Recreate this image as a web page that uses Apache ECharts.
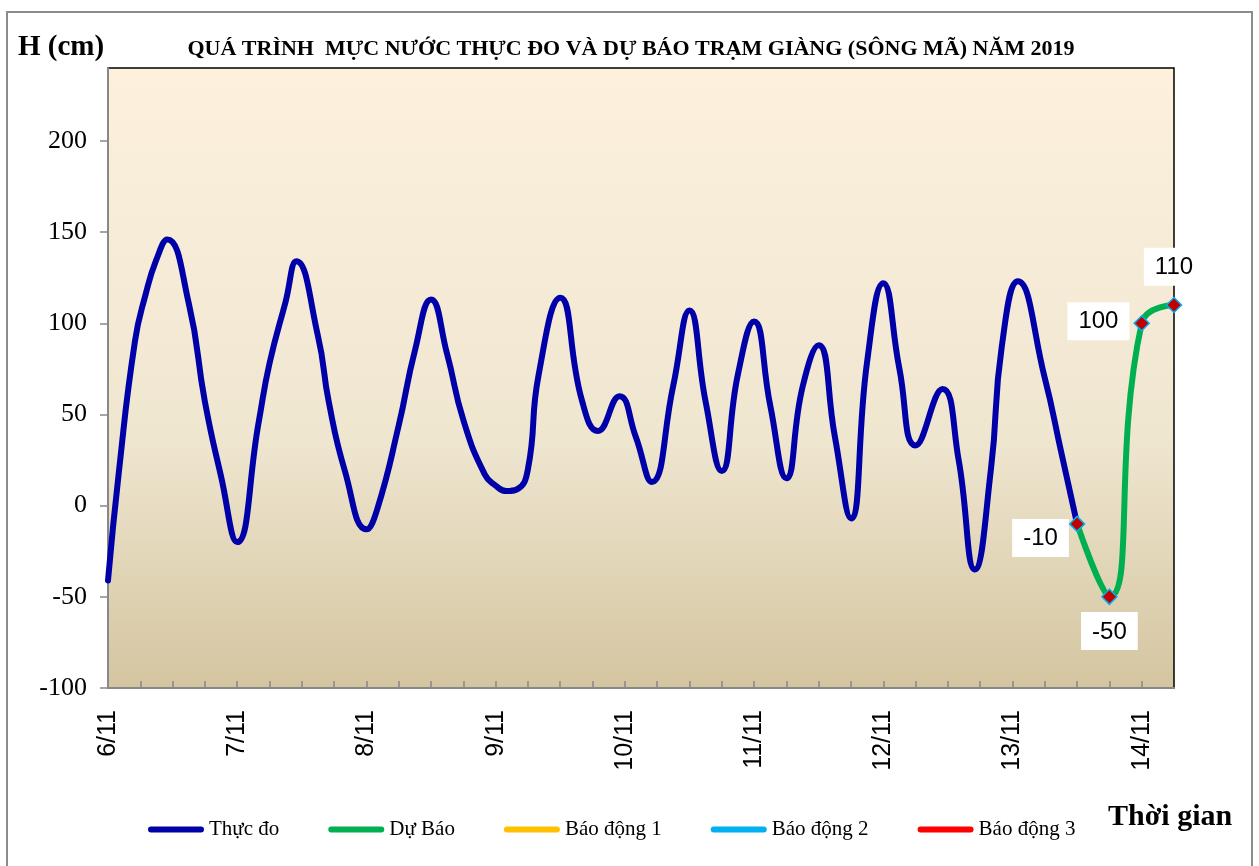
<!DOCTYPE html>
<html>
<head>
<meta charset="utf-8">
<script src="https://cdn.jsdelivr.net/npm/echarts@6/dist/echarts.min.js"></script>
<style>
  html, body { margin: 0; padding: 0; background: #fff; }
  #chart { width: 1259px; height: 866px; }
</style>
</head>
<body>
<div id="chart"></div>
<script>
// số liệu mực nước (giờ tính từ 0h ngày 6/11)
const hours = [0, 2, 5, 7, 9, 11, 15, 18, 21, 24, 28, 30, 33, 35, 39, 41, 44, 48,
  50, 54, 57, 60, 63, 66, 70, 72, 74, 76, 78, 80, 84, 88, 91, 95, 98, 101, 105, 108,
  111, 114, 117, 120, 123, 126, 129, 132, 135, 138, 141, 144, 147, 150, 155, 158, 161, 164, 166, 169,
  174, 177, 180]
const levels = [-41, 18, 90, 116, 135, 146, 111, 57, 16, -20, 46, 78, 112, 134, 93, 57, 19, -13,
  -2, 44, 85, 113, 83, 47, 17, 11, 8, 9, 20, 72, 114, 58, 41, 60, 38, 13, 66, 107,
  57, 19, 72, 101, 55, 15, 65, 88, 38, -7, 79, 122, 75, 33, 64, 25, -35, 20, 87, 123,
  70, 30, -10]
const fcHours = [180, 186, 192, 198]
const fcLevels = [-10, -50, 100, 110]
const dayLabels = ['6/11', '7/11', '8/11', '9/11', '10/11', '11/11', '12/11', '13/11', '14/11']
const yTicks = [-100, -50, 0, 50, 100, 150, 200]

const serif = 'Liberation Serif'
const sans = 'Liberation Sans'
// icon nét dày bo tròn cho chú giải
const capsule = 'path://M3,0 L53,0 A3,3 0 0 1 53,6 L3,6 A3,3 0 0 1 3,0 Z'

var chart = echarts.init(document.getElementById('chart'))

// vị trí nhãn cho từng điểm dự báo
let fcLabelPos = [
  { position: 'left', distance: 0, offset: [0, 14] },
  { position: 'bottom', distance: 7, offset: [0, 0] },
  { position: 'left', distance: 4, offset: [0, -2] },
  { position: 'top', distance: 11, offset: [0, 0] }
]

let obsData = hours.map((h, i) => [h, levels[i]])
let fcData = fcHours.map((h, i) => ({
  value: [h, fcLevels[i]],
  label: fcLabelPos[i]
}))

let option = {
  animation: false,
  graphic: [
    {
      type: 'rect',
      shape: { x: 7, y: 12, width: 1245, height: 870 },
      style: { fill: 'none', stroke: '#8c8c8c', lineWidth: 2 },
      silent: true
    },
    {
      type: 'text', left: 18, top: 33,
      style: { text: 'H (cm)', font: 'bold 29px "Liberation Serif"', fill: '#000' }
    },
    {
      type: 'text', left: 1108, top: 802,
      style: { text: 'Thời gian', font: 'bold 30px "Liberation Serif"', fill: '#000' }
    }
  ],
  title: {
    text: 'QUÁ TRÌNH  MỰC NƯỚC THỰC ĐO VÀ DỰ BÁO TRẠM GIÀNG (SÔNG MÃ) NĂM 2019',
    left: 626,
    textAlign: 'center',
    top: 33,
    textStyle: { fontFamily: serif, fontWeight: 'bold', fontSize: 22, color: '#000' }
  },
  legend: {
    left: 143,
    top: 814,
    itemWidth: 56,
    itemHeight: 6,
    itemGap: 49,
    textStyle: { fontFamily: serif, fontSize: 21, color: '#000' },
    data: [
      { name: 'Thực đo', icon: capsule },
      { name: 'Dự Báo', icon: capsule, itemStyle: { color: '#00B050', borderWidth: 0 } },
      { name: 'Báo động 1', icon: capsule },
      { name: 'Báo động 2', icon: capsule },
      { name: 'Báo động 3', icon: capsule }
    ]
  },
  grid: {
    left: 108,
    right: 85,
    top: 68,
    bottom: 178,
    show: true,
    borderColor: '#000',
    borderWidth: 1.5,
    backgroundColor: {
      type: 'linear', x: 0, y: 0, x2: 0, y2: 1,
      colorStops: [
        { offset: 0, color: '#FDF1DE' },
        { offset: 0.6, color: '#EFE6D0' },
        { offset: 1, color: '#D4C5A0' }
      ]
    }
  },
  xAxis: {
    type: 'value',
    min: 0,
    max: 198,
    interval: 6,
    splitLine: { show: false },
    axisLine: { onZero: false, lineStyle: { color: '#888', width: 2 } },
    axisTick: { inside: true, length: 7, lineStyle: { color: '#888', width: 1.5 } },
    axisLabel: {
      rotate: 90,
      margin: 22,
      fontFamily: sans,
      fontSize: 25,
      color: '#000',
      showMaxLabel: false,
      formatter: val => val % 24 === 0 ? dayLabels[val / 24] : ''
    }
  },
  yAxis: {
    type: 'value',
    min: -100,
    max: 240,
    interval: 50,
    splitLine: { show: false },
    axisLine: { show: true, lineStyle: { color: '#888', width: 2 } },
    axisTick: { show: true, length: 8, customValues: yTicks, lineStyle: { color: '#888', width: 1.5 } },
    axisLabel: {
      margin: 21,
      fontFamily: serif,
      fontSize: 26,
      color: '#000',
      customValues: yTicks
    }
  },
  series: [
    {
      name: 'Thực đo',
      type: 'line',
      data: obsData,
      smooth: 0.5,
      symbol: 'none',
      lineStyle: { color: '#0000A8', width: 6, cap: 'round' },
      itemStyle: { color: '#0000A8' }
    },
    {
      name: 'Báo động 1',
      type: 'line',
      data: [],
      symbol: 'none',
      lineStyle: { color: '#FFC000', width: 6 },
      itemStyle: { color: '#FFC000' }
    },
    {
      name: 'Báo động 2',
      type: 'line',
      data: [],
      symbol: 'none',
      lineStyle: { color: '#00B0F0', width: 6 },
      itemStyle: { color: '#00B0F0' }
    },
    {
      name: 'Báo động 3',
      type: 'line',
      data: [],
      symbol: 'none',
      lineStyle: { color: '#FF0000', width: 6 },
      itemStyle: { color: '#FF0000' }
    },
    {
      name: 'Dự Báo',
      type: 'line',
      data: fcData,
      smooth: 0.5,
      symbol: 'diamond',
      symbolSize: 15,
      lineStyle: { color: '#00B050', width: 6, cap: 'round' },
      itemStyle: { color: '#C00000', borderColor: '#00B0F0', borderWidth: 1.5 },
      label: {
        show: true,
        formatter: p => p.value[1],
        fontFamily: sans,
        fontSize: 24,
        color: '#000',
        backgroundColor: '#fff',
        padding: [8, 11, 6, 11]
      },
      z: 3
    }
  ]
}

chart.setOption(option)
</script>
</body>
</html>
